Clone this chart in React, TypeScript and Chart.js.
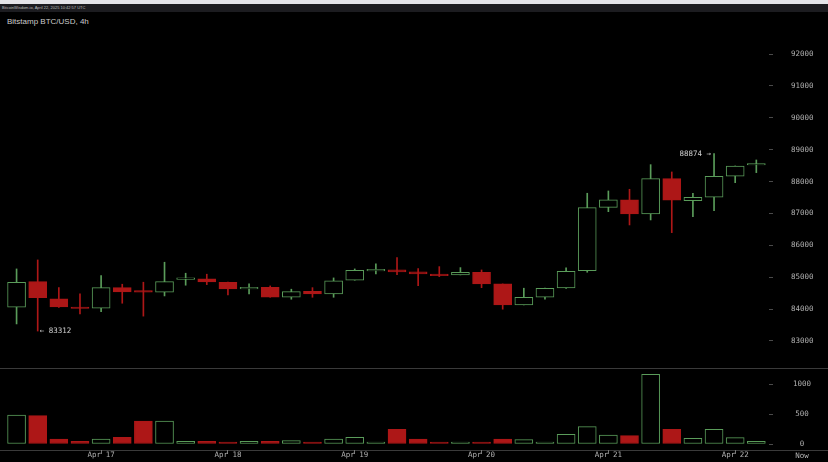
import React, { useEffect, useRef } from 'react';
import { Chart, registerables } from 'chart.js';

Chart.register(...registerables);

// ---- data (4h candles, Bitstamp BTC/USD) ----
const opens = [84059, 84862, 84319, 84040, 84028, 84673, 84548, 84530, 84930, 84946, 84843, 84635, 84686, 84371, 84560, 84476, 84906, 85200, 85228, 85166, 85082, 85072, 85156, 84790, 84131, 84372, 84664, 85208, 87191, 87423, 86984, 88091, 87402, 87507, 88165, 88520];
const highs = [85260, 85542, 84673, 84476, 85050, 84780, 84843, 85470, 85125, 85094, 84850, 84790, 84727, 84624, 84673, 84978, 85260, 85416, 85614, 85270, 85332, 85301, 85228, 84790, 84655, 84660, 85291, 87633, 87705, 87758, 88530, 88301, 87633, 88874, 88489, 88677];
const lows = [83535, 83312, 84050, 83849, 83921, 84184, 83780, 84413, 84749, 84768, 84445, 84476, 84371, 84310, 84371, 84371, 84906, 85103, 85082, 84736, 85019, 85072, 84673, 83997, 84131, 84310, 84650, 85156, 87056, 86639, 86796, 86398, 86900, 87088, 87965, 88280];
const closes = [84843, 84360, 84068, 84020, 84673, 84539, 84532, 84862, 84945, 84850, 84633, 84648, 84371, 84549, 84476, 84884, 85219, 85215, 85166, 85103, 85050, 85156, 84790, 84131, 84372, 84655, 85187, 87181, 87423, 86984, 88091, 87413, 87507, 88165, 88489, 88540];
const volumes = [483, 472, 83, 45, 83, 111, 383, 383, 45, 45, 33, 45, 45, 55, 33, 83, 111, 22, 244, 83, 22, 22, 33, 83, 72, 11, 161, 289, 150, 139, 1161, 244, 94, 244, 106, 45];

const dateTickIndex = [4, 10, 16, 22, 28, 34];
const dateTickLabels = ['Apr 17', 'Apr 18', 'Apr 19', 'Apr 20', 'Apr 21', 'Apr 22'];
const priceTicks = [83000, 84000, 85000, 86000, 87000, 88000, 89000, 90000, 91000, 92000];
const volumeTicks = [0, 500, 1000];
const lowMarkIndex = 1;
const lowMarkValue = 83312;
const highMarkIndex = 33;
const highMarkValue = 88874;

// ---- styling ----
const GREEN = '#5a9c5a';
const RED = '#ad1717';
const MONO = '"DejaVu Sans Mono", monospace';
const LABEL_COLOR = '#b0b0b0';
const TICK_COLOR = '#4a4a4a';
const X_MIN = -0.5;
const X_MAX = 35.6;
const AXIS_W = 59;

const isUp = opens.map((o, i) => closes[i] >= o);

function PriceChart() {
  const ref = useRef<HTMLCanvasElement | null>(null);
  useEffect(() => {
    if (!ref.current) return;
    const markPlugin = {
      id: 'marks',
      afterDatasetsDraw(chart: any) {
        const { ctx } = chart;
        const xs = chart.scales.x;
        const ys = chart.scales.y;
        ctx.save();
        ctx.font = `7.5px ${MONO}`;
        ctx.fillStyle = '#cfcfcf';
        ctx.textBaseline = 'middle';
        ctx.textAlign = 'left';
        ctx.fillText('\u2190 ' + lowMarkValue, xs.getPixelForValue(lowMarkIndex) + 2, ys.getPixelForValue(lowMarkValue));
        ctx.textAlign = 'right';
        ctx.fillText(highMarkValue + ' \u2192', xs.getPixelForValue(highMarkIndex) - 3, ys.getPixelForValue(highMarkValue));
        ctx.restore();
      },
    };
    const chart = new Chart(ref.current, {
      type: 'bar',
      data: {
        datasets: [
          {
            label: 'body',
            data: opens.map((o, i) => ({ x: i, y: [o, closes[i]] })) as any,
            backgroundColor: isUp.map((u) => (u ? '#000000' : RED)),
            borderColor: isUp.map((u) => (u ? GREEN : RED)),
            borderWidth: 1,
            borderSkipped: false,
            barThickness: 18,
            minBarLength: 1.5,
            grouped: false,
          } as any,
          {
            label: 'wick',
            data: highs.map((h, i) => ({ x: i, y: [lows[i], h] })) as any,
            backgroundColor: isUp.map((u) => (u ? GREEN : RED)),
            borderWidth: 0,
            barThickness: 1,
            grouped: false,
          } as any,
        ],
      },
      options: {
        animation: false,
        responsive: false,
        maintainAspectRatio: false,
        layout: { padding: { left: 6, right: 0, top: 0, bottom: 0 } },
        plugins: { legend: { display: false }, tooltip: { enabled: false } },
        scales: {
          x: { type: 'linear', min: X_MIN, max: X_MAX, offset: false, display: false, grid: { offset: false } },
          y: {
            position: 'right',
            min: 82153,
            max: 93286,
            afterBuildTicks: (s: any) => {
              s.ticks = priceTicks.map((v) => ({ value: v }));
            },
            afterFit: (s: any) => {
              s.width = AXIS_W;
              s.paddingTop = 0;
              s.paddingBottom = 0;
            },
            grid: { drawOnChartArea: false, drawTicks: true, tickLength: 4, color: TICK_COLOR },
            border: { display: false },
            ticks: {
              color: LABEL_COLOR,
              font: { family: MONO, size: 7.5 },
              padding: 18,
              crossAlign: 'center',
              callback: (v: any) => String(v),
            },
          },
        } as any,
      },
      plugins: [markPlugin],
    });
    return () => chart.destroy();
  }, []);
  return <canvas ref={ref} width={828} height={355} style={{ display: 'block', position: 'absolute', left: 0, top: 13 }} />;
}

function VolumeChart() {
  const ref = useRef<HTMLCanvasElement | null>(null);
  useEffect(() => {
    if (!ref.current) return;
    const nowPlugin = {
      id: 'now',
      afterDraw(chart: any) {
        const { ctx } = chart;
        ctx.save();
        ctx.font = `7.5px ${MONO}`;
        ctx.fillStyle = LABEL_COLOR;
        ctx.textAlign = 'center';
        ctx.textBaseline = 'middle';
        ctx.fillText('Now', 802, 87);
        ctx.restore();
      },
    };
    const chart = new Chart(ref.current, {
      type: 'bar',
      data: {
        datasets: [
          {
            label: 'volume',
            data: volumes.map((v, i) => ({ x: i, y: v })),
            backgroundColor: isUp.map((u) => (u ? '#000000' : RED)),
            borderColor: isUp.map((u) => (u ? GREEN : RED)),
            borderWidth: 1,
            borderSkipped: false,
            barThickness: 18,
            minBarLength: 2,
            grouped: false,
          } as any,
        ],
      },
      options: {
        animation: false,
        responsive: false,
        maintainAspectRatio: false,
        layout: { padding: { left: 6, right: 0, top: 0, bottom: 0 } },
        plugins: { legend: { display: false }, tooltip: { enabled: false } },
        scales: {
          x: {
            type: 'linear',
            min: X_MIN,
            max: X_MAX,
            offset: false,
            position: 'bottom',
            afterBuildTicks: (s: any) => {
              s.ticks = dateTickIndex.map((v) => ({ value: v }));
            },
            afterFit: (s: any) => {
              s.height = 12;
              s.paddingLeft = 0;
              s.paddingRight = 0;
            },
            grid: { offset: false, drawOnChartArea: false, drawTicks: true, tickLength: 4, color: '#777' },
            border: { display: false },
            ticks: {
              color: LABEL_COLOR,
              font: { family: MONO, size: 7.5 },
              padding: -3,
              maxRotation: 0,
              autoSkip: false,
              callback: (_v: any, idx: number) => dateTickLabels[idx],
            },
          },
          y: {
            position: 'right',
            min: -100,
            max: 1250,
            afterBuildTicks: (s: any) => {
              s.ticks = volumeTicks.map((v) => ({ value: v }));
            },
            afterFit: (s: any) => {
              s.width = AXIS_W;
              s.paddingTop = 0;
              s.paddingBottom = 0;
            },
            grid: { drawOnChartArea: false, drawTicks: true, tickLength: 4, color: TICK_COLOR },
            border: { display: false },
            ticks: {
              color: LABEL_COLOR,
              font: { family: MONO, size: 7.5 },
              padding: 20,
              crossAlign: 'center',
              callback: (v: any) => String(v),
            },
          },
        } as any,
      },
      plugins: [nowPlugin],
    });
    return () => chart.destroy();
  }, []);
  return <canvas ref={ref} width={828} height={93} style={{ display: 'block', position: 'absolute', left: 0, top: 369 }} />;
}

export default function App() {
  return (
    <div style={{ position: 'fixed', left: 0, top: 0, width: 828, height: 462, background: '#000', overflow: 'hidden' }}>
      <div style={{ position: 'absolute', left: 0, top: 0, width: 828, height: 4, background: '#e4e4e8' }} />
      <div
        style={{
          position: 'absolute', left: 0, top: 4, width: 828, height: 8, background: '#1c1c20',
          color: '#bdbdbd', fontFamily: 'Arial, "Liberation Sans", sans-serif', fontSize: 4, lineHeight: '8px', paddingLeft: 2, boxSizing: 'border-box', whiteSpace: 'nowrap',
        }}
      >
        BitcoinWisdom.io, April 22, 2025 10:42:57 UTC
      </div>
      <div
        style={{
          position: 'absolute', left: 7, top: 16, color: '#cccccc',
          fontFamily: 'Arial, "Liberation Sans", sans-serif', fontSize: 8, lineHeight: '11px', whiteSpace: 'nowrap',
        }}
      >
        Bitstamp BTC/USD, 4h
      </div>
      <div style={{ position: 'absolute', left: 0, top: 368, width: 828, height: 1, background: '#3a3a3a' }} />
      <div style={{ position: 'absolute', left: 0, top: 450, width: 828, height: 1, background: '#3a3a3a' }} />
      <PriceChart />
      <VolumeChart />
    </div>
  );
}
